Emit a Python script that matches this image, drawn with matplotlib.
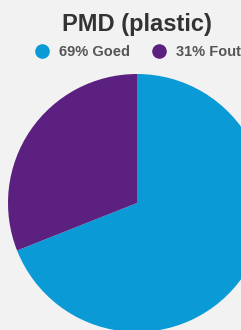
import matplotlib.pyplot as plt
from matplotlib.lines import Line2D

# data
labels = ["Goed", "Fout"]
shares = [69, 31]
colors = ["#0a9ad6", "#5c2080"]

W, H = 241, 330
fig = plt.figure(figsize=(W / 100, H / 100), dpi=100, facecolor="#f2f2f2")

# pie centred at (137, 203) px from top-left, radius 129 px
cx, cy, r = 137, 203, 129
ax = fig.add_axes([(cx - r) / W, (H - cy - r) / H, 2 * r / W, 2 * r / H])
ax.pie(shares, colors=colors, startangle=90, counterclock=False,
       radius=1, wedgeprops=dict(linewidth=0))
ax.set_xlim(-1, 1)
ax.set_ylim(-1, 1)
ax.set_aspect("auto")
ax.axis("off")

fig.text(137 / W, 1 - 25 / H, "PMD (plastic)", ha="center", va="center",
         fontsize=17, fontweight="bold", color="#333333", family="Liberation Sans")

handles = [Line2D([], [], marker="o", linestyle="", markersize=10.5,
                  markerfacecolor=c, markeredgewidth=0) for c in colors]
legend_labels = [f"{s}% {l}" for s, l in zip(shares, labels)]
leg = fig.legend(handles, legend_labels, loc="center left", ncol=2,
                 bbox_to_anchor=(35 / W, 1 - 52 / H), frameon=False,
                 borderpad=0, borderaxespad=0,
                 handletextpad=0.66, columnspacing=1.5, handlelength=1.0,
                 prop=dict(family="Liberation Sans", weight="bold", size=10.5))
for t in leg.get_texts():
    t.set_color("#555555")

fig.savefig("out.png", dpi=100, facecolor=fig.get_facecolor())
